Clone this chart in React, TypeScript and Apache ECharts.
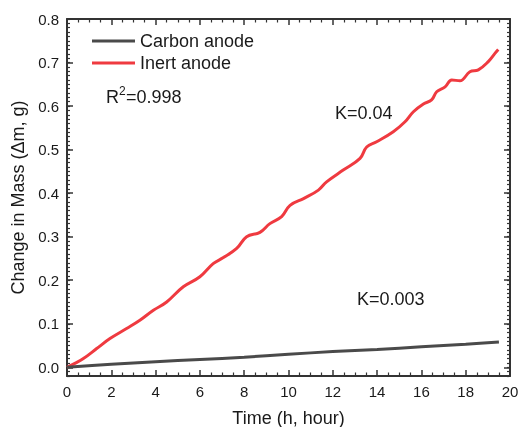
import React, { useEffect, useRef } from "react";
import * as echarts from "echarts";

const inertTime = [0, 0.4, 0.74, 1.34, 1.94, 2.69, 3.29, 3.9, 4.5, 5.25, 6.0, 6.6, 7.06, 7.66, 8.11, 8.71, 9.16, 9.69, 10.07, 10.7, 11.35, 11.72, 12.47, 13.23, 13.53, 13.98, 14.73, 15.26, 15.64, 16.09, 16.46, 16.69, 17.07, 17.37, 17.74, 18.19, 18.57, 19.02, 19.32, 19.47];
const inertMass = [0, 0.01, 0.02, 0.043, 0.066, 0.089, 0.108, 0.131, 0.15, 0.185, 0.208, 0.238, 0.252, 0.273, 0.3, 0.31, 0.33, 0.346, 0.372, 0.388, 0.407, 0.426, 0.453, 0.48, 0.506, 0.518, 0.541, 0.564, 0.587, 0.605, 0.614, 0.633, 0.644, 0.66, 0.658, 0.679, 0.683, 0.702, 0.721, 0.73];
const carbonTime = [0, 2, 4, 6, 8, 10, 12, 14, 16, 18, 19.5];
const carbonMass = [0, 0.007, 0.013, 0.018, 0.023, 0.03, 0.036, 0.041, 0.047, 0.053, 0.058];

const yMajorTicks = [0, 0.1, 0.2, 0.3, 0.4, 0.5, 0.6, 0.7, 0.8];
const yMinorTicks: number[] = [];
for (let i = -2; i <= 80; i++) yMinorTicks.push(+(i / 100).toFixed(2));

const seriesNames = ["Carbon anode", "Inert anode"];

export default function App() {
  const ref = useRef<HTMLDivElement>(null);
  useEffect(() => {
    const chart = echarts.init(ref.current!, null, { renderer: "svg" });
    const font = "Liberation Sans, Arial, sans-serif";
    const axisColor = "#333";
    const textColor = "#1a1a1a";
    const yBase = { type: "value", min: -0.02, max: 0.8, splitLine: { show: false } };
    const xBase = { type: "value", min: 0, max: 20, interval: 2, splitLine: { show: false } };
    const majorTick = { show: true, inside: true, length: 6, lineStyle: { color: axisColor, width: 1.5 } };
    const minorTickStyle = { show: true, inside: true, length: 3, lineStyle: { color: axisColor, width: 1.2 } };
    const xMinor = { show: true, splitNumber: 4, length: 3.5, lineStyle: { color: axisColor, width: 1.2 } };
    chart.setOption({
      animation: false,
      grid: { left: 67, right: 9, top: 19, bottom: 51, containLabel: false, outerBoundsMode: "none" },
      legend: {
        orient: "vertical",
        left: 87,
        top: 27,
        icon: "rect",
        itemWidth: 43,
        itemHeight: 3,
        itemGap: 4,
        textStyle: { fontFamily: font, fontSize: 18, color: textColor },
        data: seriesNames,
      },
      xAxis: [
        {
          ...xBase,
          position: "bottom",
          name: "Time (h, hour)",
          nameLocation: "middle",
          nameGap: 33,
          nameTextStyle: { fontFamily: font, fontSize: 18, color: textColor },
          axisLine: { show: true, onZero: false, lineStyle: { color: axisColor, width: 2 } },
          axisTick: majorTick,
          minorTick: xMinor,
          axisLabel: { show: true, fontFamily: font, fontSize: 15, color: textColor, margin: 8 },
        },
        {
          ...xBase,
          position: "top",
          axisLine: { show: true, onZero: false, lineStyle: { color: axisColor, width: 2 } },
          axisTick: majorTick,
          minorTick: xMinor,
          axisLabel: { show: false },
        },
      ],
      yAxis: [
        {
          ...yBase,
          position: "left",
          name: "Change in Mass (\u0394m, g)",
          nameLocation: "middle",
          nameGap: 37,
          nameTextStyle: { fontFamily: font, fontSize: 18, color: textColor },
          axisLine: { show: true, onZero: false, lineStyle: { color: axisColor, width: 2 } },
          axisTick: { ...majorTick, customValues: yMajorTicks },
          axisLabel: {
            show: true,
            fontFamily: font,
            fontSize: 15,
            color: textColor,
            margin: 8,
            customValues: yMajorTicks,
            formatter: (v: number) => v.toFixed(1),
          },
        },
        {
          ...yBase,
          position: "left",
          offset: 0,
          axisLine: { show: false, onZero: false },
          axisTick: { ...minorTickStyle, customValues: yMinorTicks },
          axisLabel: { show: false },
        },
        {
          ...yBase,
          position: "right",
          offset: 0,
          axisLine: { show: true, onZero: false, lineStyle: { color: axisColor, width: 2 } },
          axisTick: { ...majorTick, customValues: yMajorTicks },
          axisLabel: { show: false },
        },
        {
          ...yBase,
          position: "right",
          offset: 0,
          axisLine: { show: false, onZero: false },
          axisTick: { ...minorTickStyle, customValues: yMinorTicks },
          axisLabel: { show: false },
        },
      ],
      graphic: [
        { type: "text", left: 106, top: 88, style: { text: "R", fontFamily: font, fontSize: 18, fill: textColor } },
        { type: "text", left: 119, top: 85, style: { text: "2", fontFamily: font, fontSize: 12, fill: textColor } },
        { type: "text", left: 126, top: 88, style: { text: "=0.998", fontFamily: font, fontSize: 18, fill: textColor } },
        { type: "text", left: 335, top: 104, style: { text: "K=0.04", fontFamily: font, fontSize: 18, fill: textColor } },
        { type: "text", left: 357, top: 290, style: { text: "K=0.003", fontFamily: font, fontSize: 18, fill: textColor } },
      ],
      series: [
        {
          name: seriesNames[0],
          type: "line",
          xAxisIndex: 0,
          yAxisIndex: 0,
          symbol: "none",
          smooth: 0.3,
          lineStyle: { color: "#4a4a4a", width: 3 },
          itemStyle: { color: "#4a4a4a" },
          data: carbonTime.map((t, i) => [t, carbonMass[i]]),
          z: 3,
        },
        {
          name: seriesNames[1],
          type: "line",
          xAxisIndex: 0,
          yAxisIndex: 0,
          symbol: "none",
          smooth: 0.4,
          lineStyle: { color: "#ef3a40", width: 3 },
          itemStyle: { color: "#ef3a40" },
          data: inertTime.map((t, i) => [t, inertMass[i]]),
          z: 2,
        },
      ],
    });
    return () => chart.dispose();
  }, []);
  return <div ref={ref} style={{ position: "fixed", left: 0, top: 0, width: 519, height: 427 }} />;
}
